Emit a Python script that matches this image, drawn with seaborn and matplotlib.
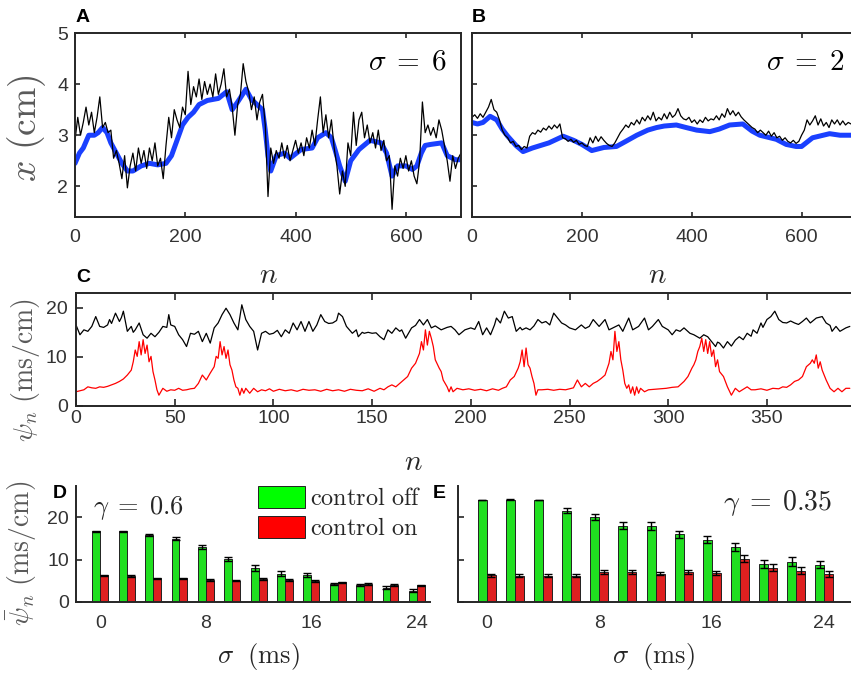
import numpy as np
import pandas as pd
import matplotlib
matplotlib.use("Agg")
import matplotlib.pyplot as plt
from matplotlib.patches import Patch
import seaborn as sns

# ---------------- data ----------------
# A: position estimate, sigma = 6 (black: raw, blue: filtered)
n_a_raw = np.arange(0, 701, 5)
x_a_raw = [2.9, 3.35, 3.0, 3.25, 3.55, 3.2, 3.45, 3.05, 3.35, 3.75,
           3.15, 3.25, 3.05, 3.1, 2.55, 2.7, 2.45, 2.15, 2.6, 1.97,
           2.4, 2.65, 2.3, 2.75, 2.45, 2.7, 2.35, 2.75, 2.5, 2.85,
           2.4, 2.55, 2.15, 2.8, 3.35, 2.95, 3.5, 3.3, 3.15, 3.55,
           3.4, 4.25, 3.6, 3.95, 3.75, 4.1, 3.7, 4.05, 3.8, 4.0,
           3.75, 4.2, 3.8, 4.0, 4.3, 3.75, 3.9, 3.55, 3.0, 3.6,
           3.8, 4.4, 4.05, 3.85, 3.5, 3.75, 3.3, 3.65, 3.8, 3.2,
           1.8, 2.75, 2.45, 2.7, 2.55, 2.85, 2.55, 2.8, 2.5, 2.7,
           2.9, 2.65, 2.85, 2.6, 2.95, 2.75, 3.1, 2.8, 3.3, 3.75,
           3.05, 3.4, 2.95, 3.3, 2.75, 2.4, 1.85, 2.3, 2.0, 2.85,
           2.6, 3.45, 2.8, 3.3, 3.45, 2.95, 3.2, 2.85, 3.05, 2.75,
           3.1, 2.7, 2.9, 2.5, 2.6, 1.55, 2.4, 2.2, 2.55, 2.35,
           2.6, 2.3, 2.5, 2.2, 2.05, 2.5, 3.65, 3.05, 3.2, 3.0,
           3.15, 2.95, 3.3, 3.1, 2.8, 2.5, 2.1, 2.6, 2.35, 2.55,
           2.65]
n_a_filt = [0, 8, 15, 25, 35, 42, 50, 58, 65, 75, 85, 95, 105, 120, 135,
            150, 165, 175, 185, 195, 205, 215, 225, 240, 260, 275, 285,
            295, 310, 320, 330, 340, 345, 350, 355, 365, 380, 390, 410,
            430, 440, 455, 465, 472, 480, 490, 500, 515, 535, 555, 565,
            575, 585, 600, 612, 620, 628, 635, 645, 665, 675, 690, 700]
x_a_filt = [2.45, 2.65, 2.75, 3.0, 3.0, 3.05, 3.15, 3.05, 2.85, 2.65,
            2.45, 2.3, 2.3, 2.4, 2.45, 2.42, 2.45, 2.6, 2.9, 3.2, 3.35,
            3.45, 3.6, 3.68, 3.72, 3.85, 3.5, 3.65, 3.9, 3.7, 3.6, 3.5,
            3.1, 2.6, 2.3, 2.6, 2.65, 2.55, 2.72, 2.75, 2.95, 3.05, 2.95,
            2.7, 2.4, 2.1, 2.5, 2.72, 2.9, 2.85, 2.65, 2.2, 2.4, 2.4,
            2.33, 2.4, 2.65, 2.8, 2.82, 2.85, 2.6, 2.52, 2.52]

# B: position estimate, sigma = 2
n_b_raw = np.arange(0, 691, 5)
x_b_raw = [3.35, 3.4, 3.33, 3.42, 3.35, 3.45, 3.55, 3.7, 3.5, 3.45,
           3.3, 3.1, 3.0, 2.95, 2.85, 2.88, 2.78, 2.8, 2.72, 2.78,
           2.75, 2.98, 3.05, 3.02, 3.1, 3.06, 3.14, 3.1, 3.18, 3.12,
           3.2, 3.14, 3.22, 2.95, 2.93, 2.88, 2.92, 2.86, 2.9, 2.82,
           2.85, 2.8, 2.78, 2.95, 2.85, 2.98, 2.88, 2.97, 2.9, 2.84,
           2.8, 2.78, 2.85, 2.95, 3.05, 3.12, 3.2, 3.15, 3.25, 3.2,
           3.3, 3.22, 3.35, 3.28, 3.38, 3.3, 3.45, 3.28, 3.35, 3.3,
           3.42, 3.32, 3.45, 3.35, 3.4, 3.52, 3.38, 3.32, 3.3, 3.35,
           3.25, 3.3, 3.22, 3.3, 3.25, 3.35, 3.28, 3.32, 3.3, 3.38,
           3.3, 3.42, 3.35, 3.52, 3.4, 3.48, 3.38, 3.45, 3.36, 3.3,
           3.25, 3.2, 3.15, 3.12, 3.05, 3.1, 3.05, 3.0, 3.08, 2.98,
           3.05, 2.95, 2.98, 2.9, 2.95, 2.88, 2.85, 2.9, 2.84, 2.88,
           3.0, 3.1, 3.3, 3.2, 3.28, 3.38, 3.2, 3.32, 3.18, 3.25,
           3.15, 3.3, 3.22, 3.3, 3.2, 3.28, 3.2, 3.25, 3.22]
n_b_filt = [0, 10, 20, 33, 45, 55, 65, 80, 93, 110, 140, 166, 185, 200,
            218, 240, 263, 280, 300, 320, 336, 350, 372, 390, 409, 433,
            450, 469, 493, 510, 524, 554, 572, 590, 600, 620, 651, 670, 690]
x_b_filt = [3.25, 3.22, 3.25, 3.37, 3.3, 3.12, 2.98, 2.8, 2.68, 2.75,
            2.85, 2.98, 2.9, 2.82, 2.7, 2.76, 2.78, 2.88, 3.0, 3.1, 3.15,
            3.18, 3.2, 3.15, 3.1, 3.07, 3.12, 3.2, 3.22, 3.08, 3.0, 2.92,
            2.82, 2.78, 2.78, 2.95, 3.03, 3.0, 3.0]

# C: psi_n without control (black) and with control (red)
n_c_off = [0, 2, 4, 6, 8, 10, 12, 14, 16, 17, 18, 20, 22, 23, 24, 26, 28,
           29, 30, 32, 34, 36, 38, 40, 42, 44, 46, 47, 48, 50, 52, 54, 56,
           58, 60, 62, 64, 66, 68, 70, 72, 74, 76, 78, 80, 82, 84, 86, 88,
           90, 92, 94, 96, 98, 100, 102, 104, 106, 108, 110, 112, 114, 116,
           118, 120, 122, 124, 126, 128, 130, 132, 133, 135, 137, 140, 142,
           143, 145, 146, 148, 150, 152, 154, 156, 158, 160, 162, 164, 165,
           167, 170, 172, 174, 176, 178, 180, 182, 185, 188, 190, 192, 194,
           197, 200, 202, 204, 206, 208, 210, 212, 213, 215, 217, 219, 221,
           223, 225, 226, 228, 230, 232, 234, 236, 238, 240, 242, 244, 246,
           248, 250, 253, 256, 258, 260, 262, 265, 268, 270, 272, 275, 277,
           280, 282, 285, 288, 290, 292, 295, 297, 300, 302, 304, 306, 308,
           311, 313, 316, 318, 320, 322, 324, 325, 326, 328, 330, 332, 334,
           336, 338, 340, 342, 343, 345, 347, 348, 350, 352, 354, 356, 358,
           360, 362, 364, 366, 368, 370, 372, 375, 378, 380, 382, 383, 385,
           387, 390, 392]
psi_c_off = [16.5, 14.5, 15.5, 15.2, 16.2, 18.2, 16.2, 16.0, 16.5, 17.6,
             16.8, 18.9, 17.2, 18.0, 19.3, 15.2, 16.2, 15.0, 15.5, 16.9,
             14.5, 13.8, 14.8, 14.1, 15.0, 16.2, 16.0, 18.6, 16.5, 16.2,
             14.5, 13.5, 12.1, 14.8, 14.6, 15.2, 13.1, 14.8, 12.8, 15.9,
             16.9, 18.6, 19.9, 18.6, 16.9, 15.5, 20.6, 17.6, 16.2, 15.2,
             11.4, 14.8, 15.2, 14.6, 14.8, 15.4, 14.1, 15.5, 14.8, 16.9,
             15.5, 17.2, 15.2, 17.2, 15.2, 16.5, 18.6, 17.2, 16.8, 16.9,
             17.4, 18.9, 18.2, 16.2, 14.8, 15.5, 14.1, 15.0, 14.8, 15.0,
             14.8, 14.9, 14.1, 13.5, 15.5, 14.8, 15.9, 15.2, 15.5, 13.8,
             15.9, 16.4, 17.6, 16.5, 17.6, 15.9, 16.3, 15.5, 16.0, 16.2,
             15.5, 14.5, 15.5, 15.9, 15.6, 17.2, 14.5, 15.9, 14.5, 16.5,
             17.9, 16.9, 19.3, 17.9, 18.2, 15.2, 16.0, 15.5, 15.9, 15.5,
             16.3, 17.6, 16.9, 17.2, 16.5, 18.9, 17.9, 16.9, 16.5, 15.9,
             15.5, 16.5, 15.8, 16.2, 17.6, 16.2, 17.6, 15.5, 15.9, 16.5,
             15.2, 17.9, 15.5, 16.2, 17.9, 15.5, 16.2, 17.6, 16.2, 15.5,
             14.5, 15.5, 15.2, 15.9, 14.8, 14.5, 13.8, 14.5, 14.1, 13.1,
             12.1, 13.0, 12.8, 11.8, 13.1, 12.2, 13.4, 14.1, 13.5, 14.8,
             14.2, 15.5, 14.8, 16.9, 16.0, 17.6, 18.2, 19.3, 17.6, 17.0,
             16.9, 17.3, 16.9, 16.6, 17.2, 17.9, 16.9, 17.9, 18.2, 16.9,
             16.4, 15.2, 16.2, 15.2, 15.9, 16.2]
n_c_on = [0, 2, 4, 6, 8, 10, 12, 14, 16, 18, 20, 22, 24, 26, 28, 29, 30,
          31, 32, 33, 34, 35, 36, 37, 38, 39, 40, 41, 42, 44, 46, 48, 50,
          52, 54, 56, 58, 60, 62, 64, 66, 68, 70, 71, 72, 73, 74, 75, 76,
          77, 78, 79, 80, 81, 82, 83, 84, 85, 86, 88, 90, 92, 94, 96, 98,
          100, 103, 106, 109, 112, 115, 118, 121, 124, 127, 130, 133, 136,
          139, 142, 145, 148, 151, 154, 156, 158, 160, 162, 164, 166, 168,
          170, 172, 174, 175, 176, 177, 178, 179, 180, 181, 182, 184, 185,
          186, 188, 189, 190, 191, 193, 196, 199, 202, 205, 208, 211, 214,
          216, 218, 220, 222, 224, 225, 226, 227, 228, 229, 230, 231, 232,
          233, 234, 236, 239, 242, 245, 248, 250, 252, 254, 256, 258, 260,
          262, 264, 266, 268, 270, 271, 272, 273, 274, 275, 276, 277, 278,
          279, 280, 281, 282, 283, 284, 285, 286, 288, 290, 293, 296, 299,
          302, 305, 308, 310, 312, 313, 314, 315, 316, 317, 318, 319, 320,
          321, 322, 323, 324, 325, 326, 328, 330, 332, 334, 336, 338, 340,
          342, 344, 347, 350, 353, 356, 358, 360, 362, 364, 366, 368, 370,
          372, 373, 374, 375, 376, 377, 378, 380, 382, 384, 386, 388, 390,
          392]
psi_c_on = [2.9, 3.1, 3.3, 3.9, 3.7, 3.6, 3.9, 3.8, 4.0, 4.3, 4.6, 5.0,
            5.5, 6.3, 7.3, 9.0, 11.4, 10.1, 13.1, 10.4, 13.5, 10.7, 12.4,
            9.0, 10.1, 7.0, 5.3, 3.3, 2.2, 3.6, 3.0, 3.3, 3.2, 3.6, 3.2,
            3.3, 3.5, 3.6, 4.6, 6.3, 5.3, 6.7, 8.0, 10.1, 9.7, 13.1, 10.4,
            12.1, 9.7, 11.4, 8.4, 7.3, 5.3, 3.9, 3.6, 2.2, 3.6, 2.6, 3.6,
            2.6, 3.6, 2.9, 3.3, 3.1, 3.5, 3.0, 3.4, 3.1, 3.3, 3.0, 3.4,
            3.2, 3.3, 3.0, 3.4, 3.1, 3.3, 3.0, 3.4, 3.2, 3.1, 3.5, 3.0,
            3.6, 3.3, 3.9, 4.3, 3.9, 4.6, 5.3, 6.0, 7.7, 8.7, 10.7, 13.1,
            11.4, 15.5, 12.4, 15.2, 13.8, 12.1, 9.4, 7.7, 7.0, 5.3, 3.9,
            2.9, 3.9, 2.9, 3.6, 3.3, 3.5, 3.2, 3.4, 3.1, 3.5, 3.2, 3.6,
            3.9, 5.3, 6.0, 7.7, 9.0, 11.4, 8.0, 11.8, 8.4, 7.7, 6.0, 4.6,
            2.2, 3.3, 3.3, 3.4, 3.2, 3.4, 3.3, 3.5, 3.7, 5.3, 3.9, 4.6,
            3.9, 4.6, 5.0, 5.6, 6.3, 8.7, 11.1, 9.4, 15.2, 11.1, 13.1, 9.4,
            7.3, 4.6, 3.6, 4.3, 2.6, 3.9, 2.2, 3.9, 2.6, 3.6, 2.9, 3.3,
            3.4, 3.5, 3.6, 3.8, 3.9, 5.0, 6.0, 7.7, 8.4, 9.4, 11.1, 12.1,
            13.8, 11.1, 13.5, 10.7, 13.1, 10.1, 11.4, 8.0, 9.4, 7.0, 6.0,
            3.9, 2.2, 3.6, 2.9, 3.4, 3.9, 3.3, 3.3, 3.5, 3.2, 3.6, 3.5,
            3.9, 3.8, 4.3, 5.0, 5.3, 6.0, 8.0, 8.7, 9.4, 8.7, 10.4, 7.7,
            9.0, 7.3, 5.3, 3.6, 2.9, 3.6, 2.9, 3.6, 3.6]

# D, E: mean psi_n vs noise level sigma
sigma = [0, 2, 4, 6, 8, 10, 12, 14, 16, 18, 20, 22, 24]
off_d = [16.6, 16.6, 15.7, 14.9, 12.9, 10.2, 8.0, 6.7, 6.3, 4.2, 4.0, 3.4, 2.7]
off_d_err = [0.1, 0.1, 0.25, 0.3, 0.5, 0.5, 0.6, 0.6, 0.5, 0.3, 0.3, 0.3, 0.3]
on_d = [6.3, 6.1, 5.6, 5.6, 5.2, 5.0, 5.4, 5.2, 4.9, 4.6, 4.3, 4.0, 3.9]
on_d_err = [0.15, 0.15, 0.15, 0.15, 0.15, 0.15, 0.15, 0.2, 0.2, 0.2, 0.2, 0.2, 0.2]
off_e = [24.0, 24.1, 24.0, 21.5, 20.0, 18.0, 17.9, 15.9, 14.7, 12.9, 8.9, 9.5, 8.8]
off_e_err = [0.1, 0.1, 0.1, 0.6, 0.7, 0.8, 0.9, 0.9, 0.9, 1.0, 1.0, 1.0, 0.9]
on_e = [6.3, 6.2, 6.2, 6.2, 7.1, 7.0, 6.7, 7.0, 6.8, 10.2, 8.1, 7.4, 6.7]
on_e_err = [0.35, 0.3, 0.35, 0.35, 0.4, 0.45, 0.35, 0.45, 0.4, 0.8, 0.8, 0.9, 0.7]

cond_labels = ["control off", "control on"]

# ---------------- style ----------------
sns.set_theme(style="white")
plt.rcParams.update({
    "font.family": ["Liberation Sans", "DejaVu Sans"],
    "mathtext.fontset": "cm",
    "axes.edgecolor": "#262626",
    "axes.linewidth": 1.4,
    "xtick.color": "#262626",
    "ytick.color": "#262626",
    "xtick.labelcolor": "#333333",
    "ytick.labelcolor": "#333333",
    "xtick.labelsize": 14,
    "ytick.labelsize": 14,
    "xtick.direction": "in",
    "ytick.direction": "in",
    "xtick.major.width": 1.2,
    "ytick.major.width": 1.2,
})

W, H = 851, 675
fig = plt.figure(figsize=(W / 100, H / 100), dpi=100)


def add_axes_px(left, top, right, bottom):
    return fig.add_axes([left / W, 1 - bottom / H, (right - left) / W, (bottom - top) / H])


def fig_xy(px, py):
    return px / W, 1 - py / H


BLUE = "#1a40ff"
GREEN = "#00ff00"
RED = "#ff0000"
LABEL_GRAY = "#5a5a5a"
DARK = "#262626"

axA = add_axes_px(75, 33, 461, 217)
axB = add_axes_px(472, 33, 851, 217)
axC = add_axes_px(76, 293, 851, 406)
axD = add_axes_px(76, 486, 430, 602)
axE = add_axes_px(458, 486, 851, 602)

# ---- A and B: trajectories ----
for ax, nf, xf, nr, xr, xmax in [
    (axA, n_a_filt, x_a_filt, n_a_raw, x_a_raw, 700),
    (axB, n_b_filt, x_b_filt, n_b_raw, x_b_raw, 690),
]:
    sns.lineplot(x=nf, y=xf, ax=ax, color=BLUE, lw=3.6, legend=False)
    sns.lineplot(x=nr, y=xr, ax=ax, color="black", lw=0.9, legend=False)
    ax.set_xlim(0, xmax)
    ax.set_ylim(1.4, 5)
    ax.set_xticks([0, 200, 400, 600])
    ax.set_yticks([2, 3, 4, 5])
    ax.tick_params(axis="x", top=True, bottom=True, length=3.5, pad=9)
    ax.tick_params(axis="y", left=True, right=False, length=3.5, pad=5)
    ax.set_xlabel(r"$n$", fontsize=21, color=DARK)
    ax.set_ylabel("")

axB.tick_params(axis="y", labelleft=False)
axB.spines["right"].set_visible(False)

axA.set_ylabel(r"$x\ (\mathrm{cm})$", fontsize=27, color=LABEL_GRAY)
axA.yaxis.set_label_coords(*fig_xy(27, 128), transform=fig.transFigure)
axA.yaxis.label.set_va("center")
axA.xaxis.set_label_coords(*fig_xy(268, 275), transform=fig.transFigure)
axA.xaxis.label.set_va("center")
axB.xaxis.set_label_coords(*fig_xy(657, 275), transform=fig.transFigure)
axB.xaxis.label.set_va("center")

fig.text(*fig_xy(447, 62), r"$\sigma\;=\;6$", fontsize=21, ha="right", va="center", color="black")
fig.text(*fig_xy(845, 62), r"$\sigma\;=\;2$", fontsize=21, ha="right", va="center", color="black")

# ---- C: psi_n time series ----
sns.lineplot(x=n_c_off, y=psi_c_off, ax=axC, color="black", lw=0.9, legend=False)
sns.lineplot(x=n_c_on, y=psi_c_on, ax=axC, color=RED, lw=0.9, legend=False)
axC.set_xlim(0, 392.6)
axC.set_ylim(0, 23)
axC.set_xticks(range(0, 351, 50))
axC.set_yticks([0, 10, 20])
axC.tick_params(axis="x", top=True, bottom=True, length=5, pad=3)
axC.tick_params(axis="y", left=True, right=False, length=5, pad=6)
axC.spines["right"].set_visible(False)
axC.set_xlabel(r"$n$", fontsize=21, color=DARK)
axC.xaxis.set_label_coords(*fig_xy(413, 462), transform=fig.transFigure)
axC.xaxis.label.set_va("center")
axC.set_ylabel(r"$\psi_n\ (\mathrm{ms/cm})$", fontsize=20, color=LABEL_GRAY)
axC.yaxis.set_label_coords(*fig_xy(25, 370), transform=fig.transFigure)
axC.yaxis.label.set_va("center")

# ---- D and E: bar charts ----
for ax, off, off_err, on, on_err, w, xl in [
    (axD, off_d, off_d_err, on_d, on_d_err, 0.6, (-1.85, 25.0)),
    (axE, off_e, off_e_err, on_e, on_e_err, 0.64, (-2.05, 25.9)),
]:
    df = pd.DataFrame({
        "sigma": sigma * 2,
        "psi": off + on,
        "cond": [cond_labels[0]] * len(sigma) + [cond_labels[1]] * len(sigma),
    })
    sns.barplot(data=df, x="sigma", y="psi", hue="cond", native_scale=True,
                palette={cond_labels[0]: GREEN, cond_labels[1]: RED},
                width=w, errorbar=None, edgecolor="#222222", linewidth=0.7,
                ax=ax, legend=False)
    s = np.asarray(sigma, dtype=float)
    ax.errorbar(s - w / 2, off, yerr=off_err, fmt="none", ecolor="black",
                elinewidth=1.0, capsize=3, capthick=1.0, zorder=5)
    ax.errorbar(s + w / 2, on, yerr=on_err, fmt="none", ecolor="black",
                elinewidth=1.0, capsize=3, capthick=1.0, zorder=5)
    ax.set_xlim(*xl)
    ax.set_ylim(0, 27.3)
    ax.set_xticks([0, 8, 16, 24])
    ax.set_yticks([0, 10, 20])
    ax.tick_params(axis="x", bottom=True, length=0, pad=9)
    ax.tick_params(axis="y", left=True, length=4, pad=5)
    ax.spines["top"].set_visible(False)
    ax.spines["right"].set_visible(False)
    ax.set_xlabel(r"$\sigma\ \ (\mathrm{ms})$", fontsize=19, color=DARK)
    ax.xaxis.label.set_va("center")
    ax.set_ylabel("")

axE.tick_params(axis="y", labelleft=False)
axD.xaxis.set_label_coords(*fig_xy(258, 657), transform=fig.transFigure)
axE.xaxis.set_label_coords(*fig_xy(653, 657), transform=fig.transFigure)
axD.set_ylabel(r"$\bar{\psi}_n\ (\mathrm{ms/cm})$", fontsize=20, color=LABEL_GRAY)
axD.yaxis.set_label_coords(*fig_xy(22, 553), transform=fig.transFigure)
axD.yaxis.label.set_va("center")

fig.text(*fig_xy(93, 508), r"$\gamma\;=\;0.6$", fontsize=19, ha="left", va="center")
fig.text(*fig_xy(723, 503), r"$\gamma\;=\;0.35$", fontsize=20, ha="left", va="center")

handles = [Patch(facecolor=GREEN, edgecolor="#222222", linewidth=0.7),
           Patch(facecolor=RED, edgecolor="#222222", linewidth=0.7)]
fig.legend(handles, [r"$\mathrm{control\ off}$", r"$\mathrm{control\ on}$"],
           loc="upper left", bbox_to_anchor=fig_xy(258, 486),
           frameon=False, fontsize=17.5, borderpad=0, borderaxespad=0,
           handlelength=1.95, handleheight=1.0, handletextpad=0.18,
           labelspacing=0.25)

# ---- panel letters ----
for letter, (px, py) in zip("ABCDE", [(76, 17), (472, 17), (76, 277), (53, 493), (433, 494)]):
    fig.text(*fig_xy(px, py), letter, fontsize=14, fontweight="bold",
             ha="left", va="center", color="black")

fig.savefig("out.png", dpi=100)
